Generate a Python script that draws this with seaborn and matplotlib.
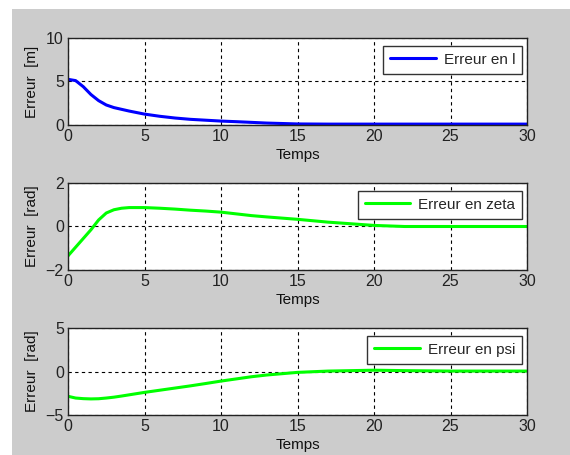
import matplotlib
matplotlib.use("Agg")
import matplotlib.pyplot as plt
import seaborn as sns
import pandas as pd
from matplotlib.patches import Rectangle

# time samples
temps = [0, 0.5, 1, 1.5, 2, 2.5, 3, 3.5, 4, 5, 6, 7, 8, 9, 10, 11, 12, 13, 15, 17, 20, 22, 25, 30]

# erreur en l  [m]
err_l = [5.25, 5.1, 4.4, 3.5, 2.8, 2.3, 2.0, 1.8, 1.6, 1.25, 1.0, 0.8, 0.65, 0.55, 0.45, 0.38, 0.3, 0.22, 0.12, 0.1, 0.1, 0.1, 0.1, 0.1]

# erreur en zeta  [rad]
err_zeta = [-1.35, -0.95, -0.55, -0.15, 0.3, 0.62, 0.77, 0.84, 0.87, 0.87, 0.84, 0.8, 0.75, 0.71, 0.66, 0.58, 0.5, 0.44, 0.33, 0.2, 0.05, 0.0, 0.0, 0.0]

# erreur en psi  [rad]
err_psi = [-2.85, -3.05, -3.12, -3.15, -3.13, -3.05, -2.95, -2.82, -2.68, -2.4, -2.15, -1.9, -1.65, -1.38, -1.1, -0.85, -0.6, -0.4, -0.1, 0.05, 0.15, 0.1, 0.05, 0.05]

panels = [
    ("Erreur en l", err_l, "#0000ff", "Erreur  [m]", (0, 10), [0, 5, 10], 0.7253),
    ("Erreur en zeta", err_zeta, "#00ff00", "Erreur  [rad]", (-2, 2), [-2, 0, 2], 0.4066),
    ("Erreur en psi", err_psi, "#00ff00", "Erreur  [rad]", (-5, 5), [-5, 0, 5], 0.0879),
]

sns.set_style("white")
plt.rcParams["font.family"] = ["Liberation Sans", "DejaVu Sans"]

fig = plt.figure(figsize=(5.7, 4.55), dpi=100)
fig.patch.set_facecolor("white")
# matlab grey window area
fig.patches.append(Rectangle((12 / 570, 0), 1 - 12 / 570, 1 - 9 / 455,
                             transform=fig.transFigure, facecolor="#cccccc",
                             edgecolor="none", zorder=-10))

for name, vals, col, ylab, ylim, yticks, bottom in panels:
    ax = fig.add_axes([0.1193, bottom, 0.8053, 0.1912])
    df = pd.DataFrame({"Temps": temps, name: vals})
    sns.lineplot(data=df, x="Temps", y=name, color=col, lw=2.2, label=name, ax=ax)
    ax.set_facecolor("white")
    ax.set_xlim(0, 30)
    ax.set_ylim(*ylim)
    ax.set_xticks([0, 5, 10, 15, 20, 25, 30])
    ax.set_yticks(yticks)
    ax.grid(True, color="black", linestyle=(0, (3, 3)), linewidth=0.8)
    for s in ax.spines.values():
        s.set_color("#222222")
        s.set_linewidth(1)
    ax.tick_params(labelsize=11.5, length=0, pad=3, colors="#222222")
    ax.set_xlabel("Temps", fontsize=11, labelpad=3, color="#111111")
    ax.set_ylabel(ylab, fontsize=11, labelpad=5, color="#111111")
    leg = ax.legend(loc="upper right", bbox_to_anchor=(0.989, 0.91), fontsize=11,
                    fancybox=False, framealpha=1, edgecolor="#333333",
                    handlelength=3.0, handletextpad=0.5, borderaxespad=0, borderpad=0.45)
    leg.get_frame().set_linewidth(1)

fig.savefig("out.png", dpi=100, facecolor=fig.get_facecolor())
